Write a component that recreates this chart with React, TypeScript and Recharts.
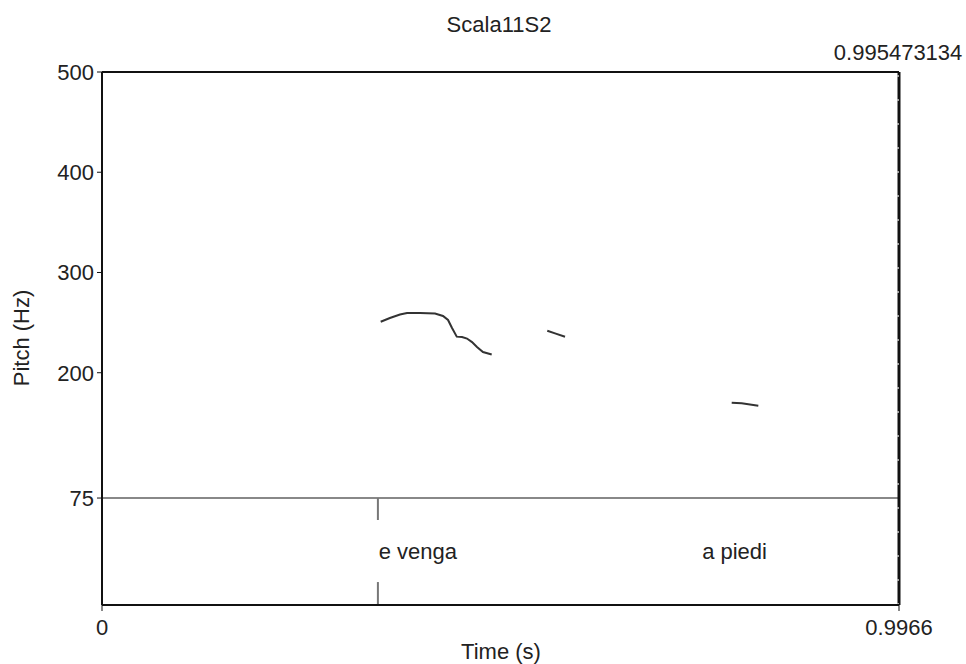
import React from 'react';
import { LineChart, Line, XAxis, YAxis, ReferenceLine, ReferenceDot } from 'recharts';

const chartTitle = 'Scala11S2';
const xLabel = 'Time (s)';
const yLabel = 'Pitch (Hz)';

const pitchSeg1 = [
  { t: 0.3485, hz: 250.9 },
  { t: 0.360, hz: 254.6 },
  { t: 0.3726, hz: 258.1 },
  { t: 0.3814, hz: 259.6 },
  { t: 0.3977, hz: 259.6 },
  { t: 0.4164, hz: 259.1 },
  { t: 0.4264, hz: 256.6 },
  { t: 0.4327, hz: 252.6 },
  { t: 0.4377, hz: 244.6 },
  { t: 0.4436, hz: 236.0 },
  { t: 0.4502, hz: 235.6 },
  { t: 0.4564, hz: 234.1 },
  { t: 0.4627, hz: 230.6 },
  { t: 0.4689, hz: 225.6 },
  { t: 0.4764, hz: 220.7 },
  { t: 0.4873, hz: 218.2 },
];
const pitchSeg2 = [
  { t: 0.5568, hz: 241.9 },
  { t: 0.5665, hz: 239.3 },
  { t: 0.579, hz: 235.9 },
];
const pitchSeg3 = [
  { t: 0.7874, hz: 170.1 },
  { t: 0.7999, hz: 169.5 },
  { t: 0.8207, hz: 167.1 },
];

const xTicks = [0, 0.9966];
const yTicks = [75, 200, 300, 400, 500];
const xDomain = [0, 0.9966];
const yDomain = [-31.7, 500];
const tierBoundary = 0.345;
const tierTop = 75;
const tierGapTop = 53.1;
const tierGapBottom = -8.8;
const cursorTime = 0.995473134;
const cursorLabel = '0.995473134';
const intervalTimes = [0.395, 0.791];
const intervalTexts = ['e venga', 'a piedi'];
const intervalTextHz = 21.5;

const FONT = '"Liberation Sans", Arial, sans-serif';
const FS = 22;

export default function App() {
  const tickStyle = { fill: '#222', fontSize: FS, fontFamily: FONT };
  return (
    <div
      style={{
        position: 'fixed', left: 0, top: 0, width: 966, height: 664, overflow: 'hidden',
        fontFamily: FONT, background: '#fff',
      }}
    >
      <div
        style={{
          position: 'absolute', left: 0, width: 998, top: 14, textAlign: 'center',
          fontSize: FS, lineHeight: `${FS}px`, color: '#222',
        }}
      >
        {chartTitle}
      </div>
      <div
        style={{
          position: 'absolute', left: 0, width: 1002, top: 641, textAlign: 'center',
          fontSize: FS, lineHeight: `${FS}px`, color: '#222',
        }}
      >
        {xLabel}
      </div>
      <div
        style={{
          position: 'absolute', left: 22 - 100, top: 338 - 11, width: 200, textAlign: 'center',
          fontSize: FS, lineHeight: `${FS}px`, color: '#222', transform: 'rotate(-90deg)',
        }}
      >
        {yLabel}
      </div>
      <LineChart width={966} height={664} margin={{ top: 72, right: 67, bottom: 29, left: 42 }}>
        <XAxis
          type="number"
          dataKey="t"
          domain={xDomain}
          ticks={xTicks}
          tickFormatter={(v: number) => String(v)}
          allowDataOverflow
          height={30}
          tickSize={6}
          tickMargin={8}
          tick={tickStyle}
          axisLine={{ stroke: '#111', strokeWidth: 2 }}
          tickLine={{ stroke: '#111', strokeWidth: 1 }}
        />
        <YAxis
          type="number"
          dataKey="hz"
          domain={yDomain}
          ticks={yTicks}
          allowDataOverflow
          width={60}
          tickSize={5}
          tickMargin={3}
          tick={tickStyle}
          axisLine={{ stroke: '#111', strokeWidth: 2 }}
          tickLine={{ stroke: '#111', strokeWidth: 1 }}
        />
        <ReferenceLine y={500} stroke="#111" strokeWidth={2} />
        <ReferenceLine y={tierTop} stroke="#888" strokeWidth={2} />
        <ReferenceLine
          segment={[{ x: tierBoundary, y: tierTop }, { x: tierBoundary, y: tierGapTop }]}
          stroke="#777"
          strokeWidth={2}
        />
        <ReferenceLine
          segment={[{ x: tierBoundary, y: tierGapBottom }, { x: tierBoundary, y: yDomain[0] }]}
          stroke="#777"
          strokeWidth={2}
        />
        <ReferenceLine x={xDomain[1]} stroke="#111" strokeWidth={3} />
        <ReferenceLine
          x={cursorTime}
          stroke="#fff"
          strokeWidth={1}
          strokeDasharray="2 22"
          label={{ value: cursorLabel, position: 'top', offset: 12, fill: '#222', fontSize: FS, fontFamily: FONT }}
        />
        {intervalTimes.map((t, i) => (
          <ReferenceDot
            key={i}
            x={t}
            y={intervalTextHz}
            r={0}
            fill="none"
            stroke="none"
            label={{ value: intervalTexts[i], position: 'center', fill: '#222', fontSize: FS, fontFamily: FONT }}
          />
        ))}
        <Line data={pitchSeg1} dataKey="hz" stroke="#333" strokeWidth={2} dot={false} isAnimationActive={false} />
        <Line data={pitchSeg2} dataKey="hz" stroke="#333" strokeWidth={2} dot={false} isAnimationActive={false} />
        <Line data={pitchSeg3} dataKey="hz" stroke="#333" strokeWidth={2} dot={false} isAnimationActive={false} />
      </LineChart>
    </div>
  );
}
